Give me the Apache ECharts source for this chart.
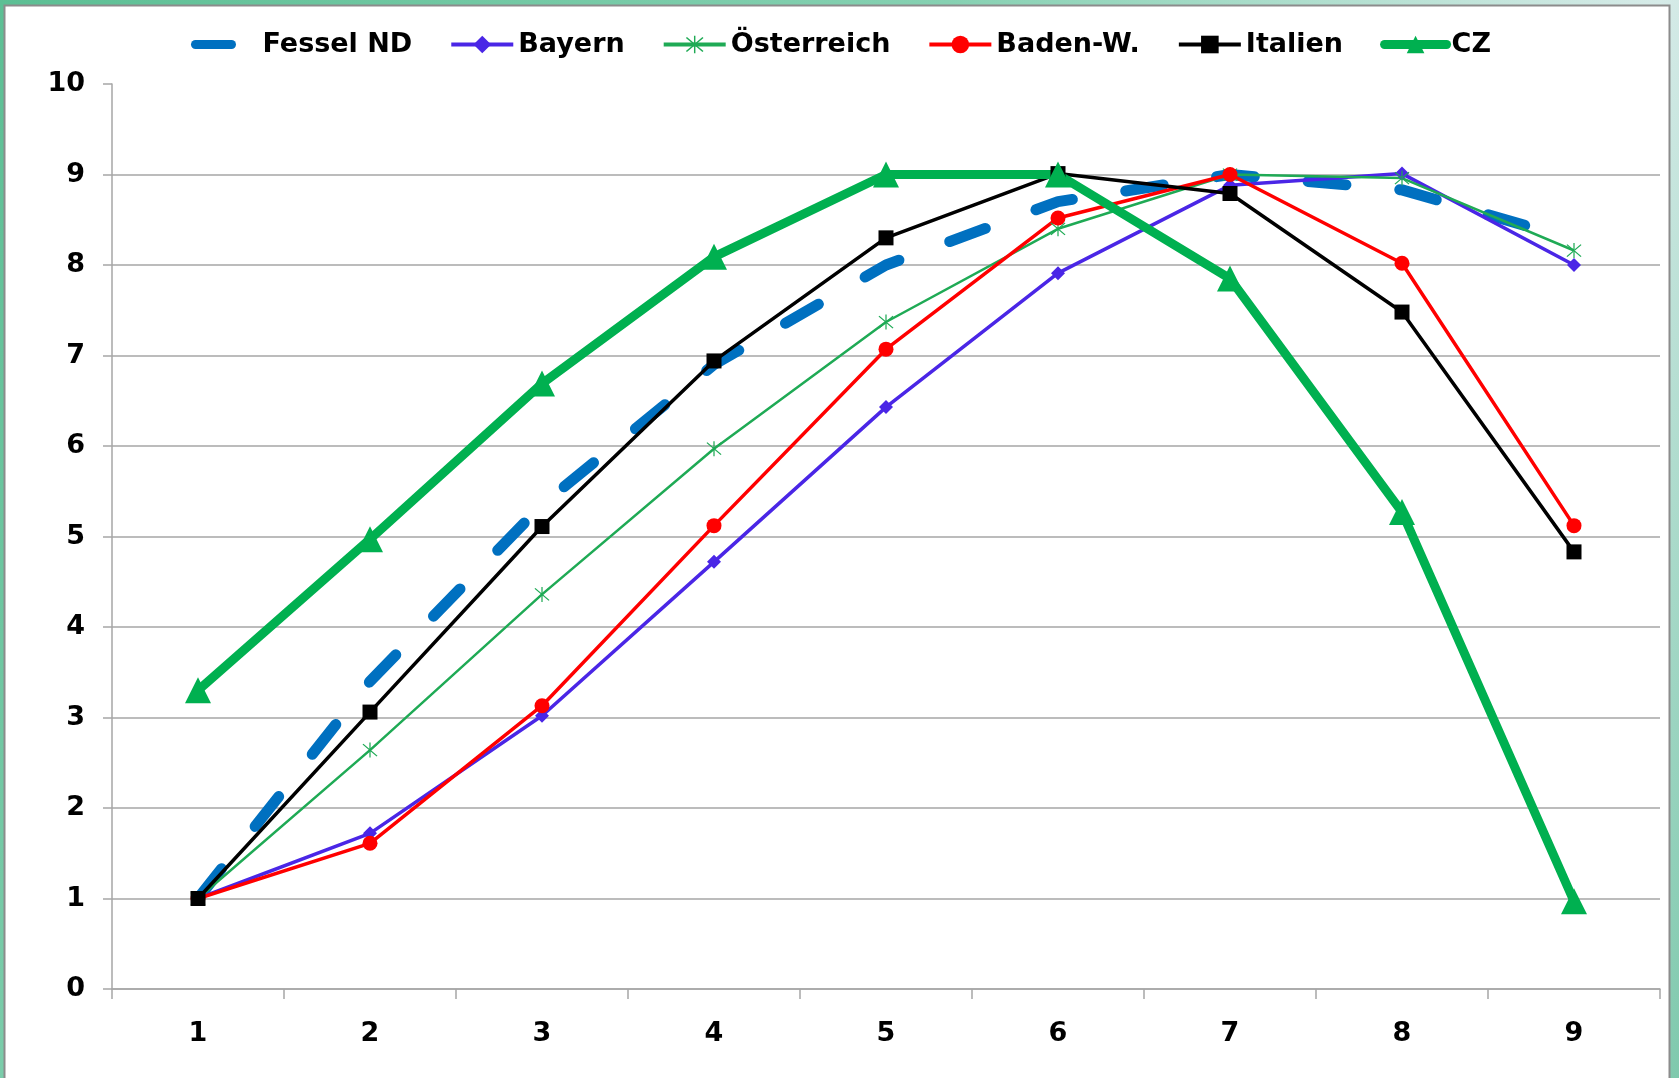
<!DOCTYPE html>
<html>
<head>
<meta charset="utf-8">
<script src="https://cdn.jsdelivr.net/npm/echarts@6/dist/echarts.min.js"></script>
<style>
html,body{margin:0;padding:0;width:1679px;height:1078px;overflow:hidden;}
#chart{width:1679px;height:1078px;}
</style>
</head>
<body>
<div id="chart"></div>
<script>
const categories = ['1', '2', '3', '4', '5', '6', '7', '8', '9'];
const yTicks = [0, 10, 1]; // min, max, interval

const fessel      = [1.00, 3.40, 5.35, 6.90, 8.00, 8.70, 9.00, 8.83, 8.28];
const bayern      = [1.00, 1.72, 3.02, 4.72, 6.43, 7.91, 8.88, 9.01, 8.00];
const oesterreich = [1.00, 2.64, 4.36, 5.97, 7.37, 8.40, 9.00, 8.96, 8.16];
const badenW      = [1.00, 1.61, 3.13, 5.12, 7.07, 8.52, 9.00, 8.02, 5.12];
const italien     = [1.00, 3.06, 5.11, 6.94, 8.30, 9.01, 8.79, 7.48, 4.83];
const cz          = [3.30, 4.97, 6.69, 8.09, 9.00, 9.00, 7.85, 5.27, 0.97];

const seriesNames = ['Fessel ND', 'Bayern', 'Österreich', 'Baden-W.', 'Italien', 'CZ'];

const asterisk = 'path://M9.3,0 H10.7 V20 H9.3 Z M1.5,2.5 L2.5,1.5 L18.5,17.5 L17.5,18.5 Z M18.5,2.5 L17.5,1.5 L1.5,17.5 L2.5,18.5 Z';

const chart = echarts.init(document.getElementById('chart'), null, {renderer: 'canvas'});
const labelFont = "'DejaVu Sans', Verdana, sans-serif";

chart.setOption({
  animation: false,
  backgroundColor: {
    type: 'linear', x: 0, y: 0, x2: 1, y2: 1,
    colorStops: [
      {offset: 0, color: '#5cbf94'},
      {offset: 0.4, color: '#86d1b2'},
      {offset: 0.7, color: '#d6ebe8'},
      {offset: 1, color: '#7fc9ad'}
    ]
  },
  graphic: [{
    type: 'rect', z: -10, silent: true,
    shape: {x: 4.5, y: 5.5, width: 1665, height: 1100},
    style: {fill: '#ffffff', stroke: '#8c8c8c', lineWidth: 2}
  }],
  legend: {
    data: [
      {name: seriesNames[0], lineStyle: {width: 9, type: [36, 60], cap: 'round'}, itemStyle: {opacity: 0}},
      {name: seriesNames[1], lineStyle: {width: 4}},
      {name: seriesNames[2], lineStyle: {width: 4}},
      {name: seriesNames[3], lineStyle: {width: 4}},
      {name: seriesNames[4], lineStyle: {width: 4}},
      {name: seriesNames[5], lineStyle: {width: 9, cap: 'round'}}
    ],
    left: 186, top: 26,
    itemWidth: 62, itemHeight: 22, itemGap: 37,
    textStyle: {fontFamily: labelFont, fontWeight: 'bold', fontSize: 27, color: '#000'}
  },
  grid: {left: 112, right: 19, top: 84, bottom: 89},
  xAxis: {
    type: 'category',
    data: categories,
    boundaryGap: true,
    axisLine: {lineStyle: {color: '#a6a6a6', width: 1.5}},
    axisTick: {show: true, length: 10, inside: false, lineStyle: {color: '#a6a6a6', width: 1.5}},
    axisLabel: {margin: 31, fontFamily: labelFont, fontWeight: 'bold', fontSize: 27, color: '#000'},
    splitLine: {show: false}
  },
  yAxis: {
    type: 'value',
    min: yTicks[0], max: yTicks[1], interval: yTicks[2],
    axisLine: {show: true, lineStyle: {color: '#a6a6a6', width: 1.5}},
    axisTick: {show: true, length: 9, lineStyle: {color: '#a6a6a6', width: 1.5}},
    axisLabel: {margin: 27, fontFamily: labelFont, fontWeight: 'bold', fontSize: 27, color: '#000'},
    splitLine: {show: true, showMaxLine: false, lineStyle: {color: '#a6a6a6', width: 1.5}}
  },
  series: [
    {
      name: 'Fessel ND', type: 'line', data: fessel,
      symbol: 'none',
      lineStyle: {color: '#0070c0', width: 11, type: [38, 54], cap: 'round'},
      itemStyle: {color: '#0070c0'}
    },
    {
      name: 'Bayern', type: 'line', data: bayern,
      symbol: 'diamond', symbolSize: 14,
      lineStyle: {color: '#4a26e6', width: 3.5},
      itemStyle: {color: '#4a26e6'}
    },
    {
      name: 'Österreich', type: 'line', data: oesterreich,
      symbol: asterisk, symbolSize: 15,
      lineStyle: {color: '#1faa55', width: 2.5},
      itemStyle: {color: '#1faa55'}
    },
    {
      name: 'Baden-W.', type: 'line', data: badenW,
      symbol: 'circle', symbolSize: 15,
      lineStyle: {color: '#ff0000', width: 3.5},
      itemStyle: {color: '#ff0000'}
    },
    {
      name: 'Italien', type: 'line', data: italien,
      symbol: 'rect', symbolSize: 15,
      lineStyle: {color: '#000000', width: 3.5},
      itemStyle: {color: '#000000'}
    },
    {
      name: 'CZ', type: 'line', data: cz,
      symbol: 'triangle', symbolSize: 26,
      lineStyle: {color: '#00b050', width: 9},
      itemStyle: {color: '#00b050'}
    }
  ]
});
</script>
</body>
</html>
